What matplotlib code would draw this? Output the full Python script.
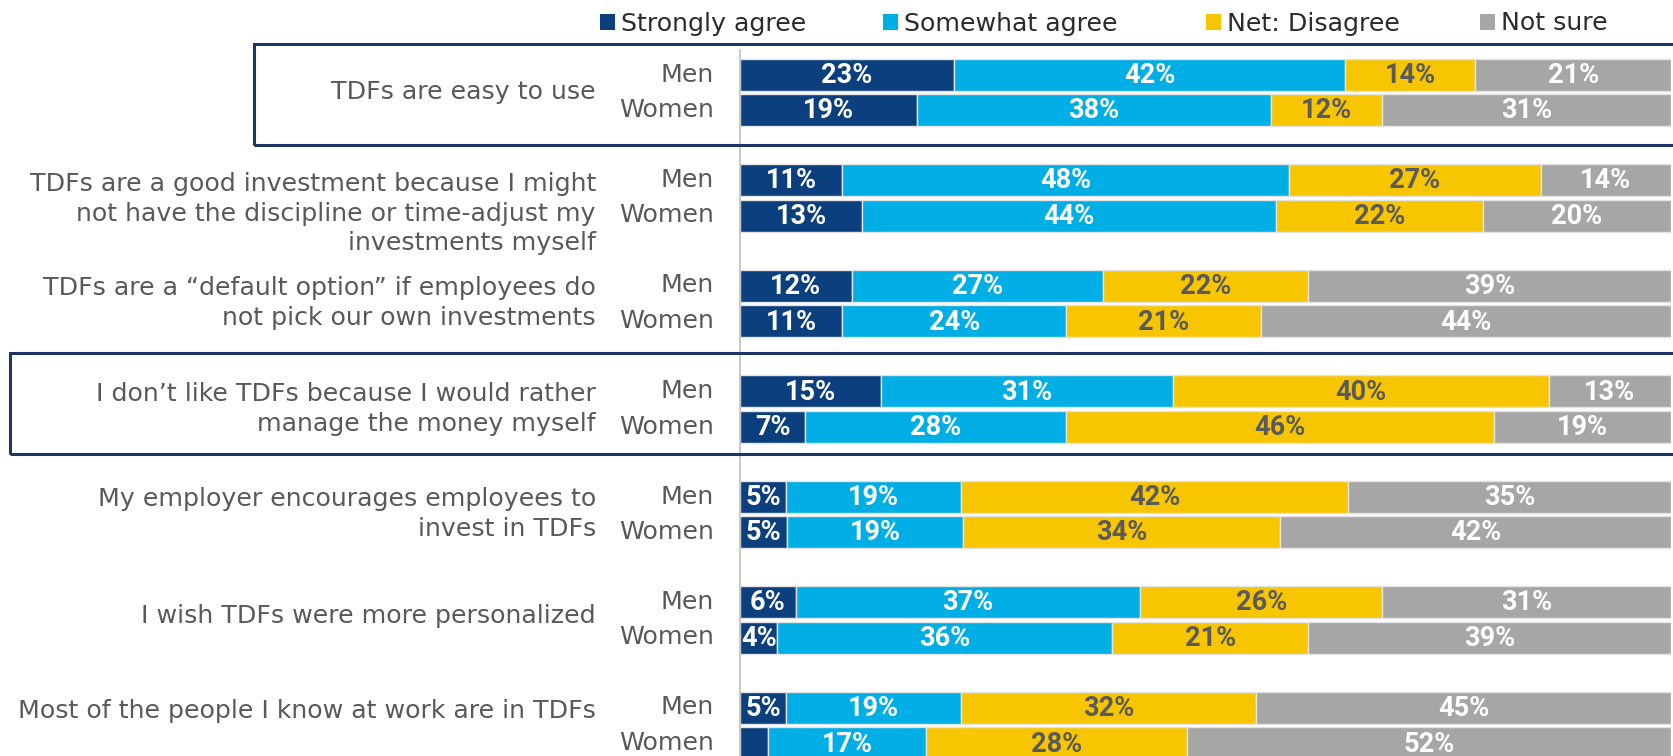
import matplotlib
matplotlib.use("Agg")
import matplotlib.pyplot as plt
import numpy as np
from matplotlib.patches import Rectangle
from matplotlib.transforms import blended_transform_factory

# ---------------- data ----------------
categories = [
    "TDFs are easy to use",
    "TDFs are a good investment because I might\nnot have the discipline or time-adjust my\ninvestments myself",
    "TDFs are a \u201cdefault option\u201d if employees do\nnot pick our own investments",
    "I don\u2019t like TDFs because I would rather\nmanage the money myself",
    "My employer encourages employees to\ninvest in TDFs",
    "I wish TDFs were more personalized",
    "Most of the people I know at work are in TDFs",
]
groups = ["Men", "Women"]
series_names = ["Strongly agree", "Somewhat agree", "Net: Disagree", "Not sure"]

strongly_men = [23, 11, 12, 15, 5, 6, 5]
strongly_women = [19, 13, 11, 7, 5, 4, 3]
somewhat_men = [42, 48, 27, 31, 19, 37, 19]
somewhat_women = [38, 44, 24, 28, 19, 36, 17]
disagree_men = [14, 27, 22, 40, 42, 26, 32]
disagree_women = [12, 22, 21, 46, 34, 21, 28]
notsure_men = [21, 14, 39, 13, 35, 31, 45]
notsure_women = [31, 20, 44, 19, 42, 39, 52]

# ---------------- styles ----------------
colors = ["#0B3F7E", "#00AEE6", "#F8C600", "#A6A6A6"]
label_colors = ["white", "white", "#5A5A5A", "white"]
text_gray = "#595959"
box_color = "#1C3766"
W, H = 1674, 756
DPI = 100

# layout (pixel units of the figure)
first_center = 74.5
row_step = 105.5
pair_offset = 35.5
bar_h = 32
label_offsets = [0, 16, 0, 0, 0, -4, -14]
legend_x = [600, 883, 1206, 1480]

men = np.array([strongly_men, somewhat_men, disagree_men, notsure_men], float).T
women = np.array([strongly_women, somewhat_women, disagree_women, notsure_women], float).T

fig = plt.figure(figsize=(W / DPI, H / DPI), dpi=DPI)
ax_left, ax_right = 740, 1671
ax = fig.add_axes([ax_left / W, 0, (ax_right - ax_left) / W, 1])
ax.set_xlim(0, 100)
ax.set_ylim(H, 0)
ax.axis("off")

bar_font = dict(family="Roboto", weight="bold", size=19.5)
text_font = dict(family="DejaVu Sans", size=18.2)

handles = []
for i, cat in enumerate(categories):
    yc_m = first_center + i * row_step
    yc_w = yc_m + pair_offset
    for vals, yc in ((men[i], yc_m), (women[i], yc_w)):
        norm = vals / vals.sum() * 100
        left = 0
        for k, (v, nv) in enumerate(zip(vals, norm)):
            b = ax.barh(yc, nv, left=left, height=bar_h, color=colors[k],
                        edgecolor="#E3E3E3", linewidth=1.0,
                        label=series_names[k] if i == 0 and yc == yc_m else None)
            if i == 0 and yc == yc_m:
                handles.append(b)
            if v >= 4:
                ax.text(left + nv / 2, yc + 1, f"{int(v)}%", ha="center", va="center",
                        color=label_colors[k], **bar_font)
            left += nv

# Men / Women labels and category labels
trans = blended_transform_factory(fig.transFigure, ax.transData)
for i, cat in enumerate(categories):
    yc_m = first_center + i * row_step
    yc_w = yc_m + pair_offset
    ax.text(714 / W, yc_m, groups[0], transform=trans, ha="right", va="center",
            color=text_gray, **text_font)
    ax.text(714 / W, yc_w, groups[1], transform=trans, ha="right", va="center",
            color=text_gray, **text_font)
    ax.text(596 / W, (yc_m + yc_w) / 2 + label_offsets[i], cat, transform=trans,
            ha="right", va="center", multialignment="right", linespacing=1.3,
            color=text_gray, **text_font)

# vertical axis line
ax.plot([0, 0], [50, H], color="#BFBFBF", lw=1.2, clip_on=False)

# highlight boxes (figure pixel coordinates)
for (x0, y0, y1) in [(254, 44, 145), (10.5, 353, 454)]:
    fig.patches.append(Rectangle((x0 / W, 1 - y1 / H), (W + 10 - x0) / W, (y1 - y0) / H,
                                 transform=fig.transFigure, fill=False,
                                 edgecolor=box_color, linewidth=2.2, clip_on=False))

# legend entries, one per series
for h, name, lx in zip(handles, series_names, legend_x):
    leg = fig.legend(handles=[h], labels=[name], loc="center left",
                     bbox_to_anchor=(lx / W, 1 - 23.5 / H), frameon=False,
                     handlelength=0.6, handleheight=0.6, handletextpad=0.25,
                     prop=dict(family="DejaVu Sans", size=18.2),
                     borderaxespad=0, borderpad=0)
    for t in leg.get_texts():
        t.set_color("#2B2B2B")
    for p in leg.get_patches():
        p.set_edgecolor("none")

fig.savefig("out.png", dpi=DPI)
